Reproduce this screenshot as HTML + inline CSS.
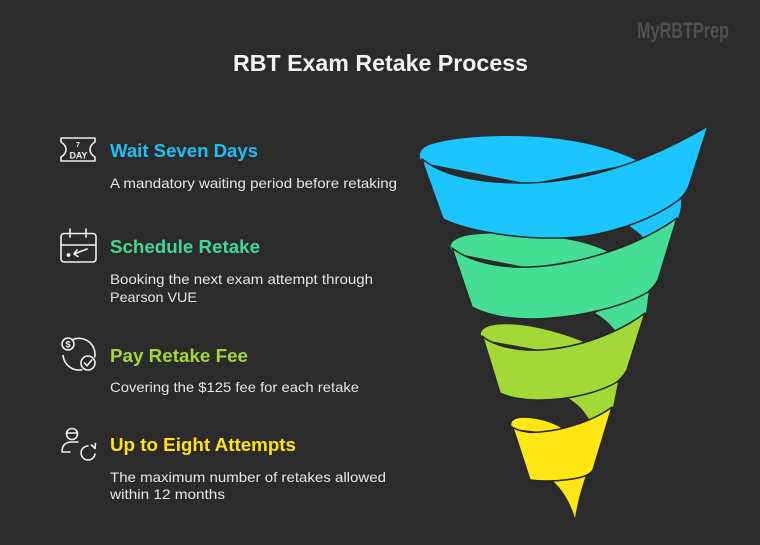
<!DOCTYPE html>
<html>
<head>
<meta charset="utf-8">
<style>
  html,body{margin:0;padding:0;background:#2b2b2b;}
  body{width:760px;height:545px;overflow:hidden;}
  svg{display:block;}
  text{font-family:"Liberation Sans", Arial, sans-serif;}
</style>
</head>
<body>
<svg width="760" height="545" viewBox="0 0 760 545" xmlns="http://www.w3.org/2000/svg">
  <rect x="0" y="0" width="760" height="545" fill="#2b2b2b"/>

  <!-- Watermark -->
  <text x="637" y="38" font-size="22" font-weight="bold" fill="#505050" textLength="92" lengthAdjust="spacingAndGlyphs">MyRBTPrep</text>

  <!-- Title -->
  <text x="233" y="71" font-size="23" font-weight="bold" fill="#f2f2f2" textLength="295" lengthAdjust="spacingAndGlyphs">RBT Exam Retake Process</text>

  <!-- Item 1 -->
  <g fill="none" stroke="#f0f0f0" stroke-width="1.6" stroke-linejoin="round" stroke-linecap="round">
    <path d="M61,138 H95 V142 Q90,145 90,149.5 Q90,154 95,157 V161 H61 V157 Q66,154 66,149.5 Q66,145 61,142 Z"/>
  </g>
  <text x="78" y="147" font-size="7" font-weight="bold" fill="#f0f0f0" text-anchor="middle">7</text>
  <text x="69.5" y="158.5" font-size="9" font-weight="bold" fill="#f0f0f0" textLength="18" lengthAdjust="spacingAndGlyphs">DAY</text>
  <text x="110" y="157" font-size="18.5" font-weight="bold" fill="#1ebff4" textLength="148" lengthAdjust="spacingAndGlyphs">Wait Seven Days</text>
  <text x="110" y="188" font-size="14" fill="#e6e6e6" textLength="287" lengthAdjust="spacingAndGlyphs">A mandatory waiting period before retaking</text>

  <!-- Item 2 -->
  <g fill="none" stroke="#f0f0f0" stroke-width="1.6" stroke-linejoin="round" stroke-linecap="round">
    <rect x="61" y="233.5" width="35" height="28.5" rx="3"/>
    <line x1="70" y1="229" x2="70" y2="237"/>
    <line x1="86" y1="229" x2="86" y2="237"/>
    <line x1="61" y1="245" x2="96" y2="245"/>
    <path d="M87,249 L74,254 M77,250 L74,254 L78,256.5"/>
  </g>
  <circle cx="68.5" cy="255" r="1.9" fill="#f0f0f0"/>
  <text x="110" y="253" font-size="18.5" font-weight="bold" fill="#43d792" textLength="150" lengthAdjust="spacingAndGlyphs">Schedule Retake</text>
  <text x="110" y="284" font-size="14" fill="#e6e6e6" textLength="263" lengthAdjust="spacingAndGlyphs">Booking the next exam attempt through</text>
  <text x="110" y="302" font-size="14" fill="#e6e6e6" textLength="87" lengthAdjust="spacingAndGlyphs">Pearson VUE</text>

  <!-- Item 3 -->
  <g fill="none" stroke="#f0f0f0" stroke-width="1.6" stroke-linejoin="round" stroke-linecap="round">
    <circle cx="68" cy="344" r="6"/>
    <circle cx="88" cy="363" r="7"/>
    <path d="M73,339.5 A16,16 0 0 1 94.8,356.8"/>
    <path d="M81.8,369.8 A16,16 0 0 1 63.1,355.5"/>
    <path d="M84.5,363 L87,365.8 L91.8,360"/>
  </g>
  <text x="68" y="347.5" font-size="9" font-weight="bold" fill="#f0f0f0" text-anchor="middle">$</text>
  <text x="110" y="362" font-size="18.5" font-weight="bold" fill="#a0d638" textLength="138" lengthAdjust="spacingAndGlyphs">Pay Retake Fee</text>
  <text x="110" y="392" font-size="14" fill="#e6e6e6" textLength="249" lengthAdjust="spacingAndGlyphs">Covering the $125 fee for each retake</text>

  <!-- Item 4 -->
  <g fill="none" stroke="#f0f0f0" stroke-width="1.6" stroke-linejoin="round" stroke-linecap="round">
    <circle cx="72" cy="434" r="5.5"/>
    <line x1="66.5" y1="433" x2="77.5" y2="433"/>
    <path d="M70,452 H62 Q62,442 72,442 H78"/>
    <path d="M88,446 A7,7 0 1 0 95,454"/>
    <path d="M91.5,445 L95,448.5 L95.5,443.5"/>
  </g>
  <text x="110" y="451" font-size="18.5" font-weight="bold" fill="#ffe21b" textLength="186" lengthAdjust="spacingAndGlyphs">Up to Eight Attempts</text>
  <text x="110" y="482" font-size="14" fill="#e6e6e6" textLength="276" lengthAdjust="spacingAndGlyphs">The maximum number of retakes allowed</text>
  <text x="110" y="499" font-size="14" fill="#e6e6e6" textLength="115" lengthAdjust="spacingAndGlyphs">within 12 months</text>

  <!-- Funnel: back pieces -->
  <path d="M553,481 Q568,495 575,518 Q578,498 586,475 Z" fill="#ffe614"/>
  <path d="M568,398 Q582,406 590,421 L613,407 L618,382 Z" fill="#a3d936"/>
  <path d="M595,313 Q608,320 617,333 L646,313 L649,290 Z" fill="#44de95"/>
  <path d="M622,222 Q636,229 645,239 L678,218 Q682,208 681,198 Z" fill="#1bc5fd"/>

  <!-- Yellow band -->
  <path d="M514,429 C509,425 511,419 520,418 C535,417 552,422 563,429 L540,432 Z" fill="#ffe614"/>
  <path d="M512,427 C520,432 530,433 540,432 C565,430 595,420 612,407 L593,470 Q590,474 585,476 C570,481 545,482 530,480 L514,431 Z" fill="#ffe614" stroke="#262626" stroke-width="1.5" stroke-linejoin="round"/>

  <!-- Lime band -->
  <path d="M484,340 C478,335 480,327 495,325 C515,322 550,328 586,343 L540,350 Z" fill="#a3d936"/>
  <path d="M482,336 C495,347 520,351 540,350 C580,348 620,332 645,313 L627,370 Q623,377 617,382 C600,392 570,400 540,400 C520,400 508,397 500,393 L484,341 Z" fill="#a3d936" stroke="#262626" stroke-width="1.5" stroke-linejoin="round"/>

  <!-- Green band -->
  <path d="M454,253 C448,248 449,240 465,236 C490,231 540,233 580,242 C595,246 605,250 612,254 L530,268 Z" fill="#44de95"/>
  <path d="M452,248 C470,262 500,268 530,267 C580,265 640,245 677,218 L658,280 Q654,287 648,292 C625,306 580,318 533,319 C505,319 485,314 472,307 L454,254 Z" fill="#44de95" stroke="#262626" stroke-width="1.5" stroke-linejoin="round"/>

  <!-- Blue band -->
  <path d="M424,163 C417,158 418,148 432,144 C460,136 510,134 550,138 C590,142 620,152 640,162 L530,184 Z" fill="#1bc5fd"/>
  <path d="M422,159 C445,177 480,183 527,183 C590,182 650,160 708,126 L689,186 Q686,193 680,199 C650,222 600,238 560,238 C520,239 470,232 443,219 L424,166 Z" fill="#1bc5fd" stroke="#262626" stroke-width="1.5" stroke-linejoin="round"/>
</svg>
</body>
</html>
